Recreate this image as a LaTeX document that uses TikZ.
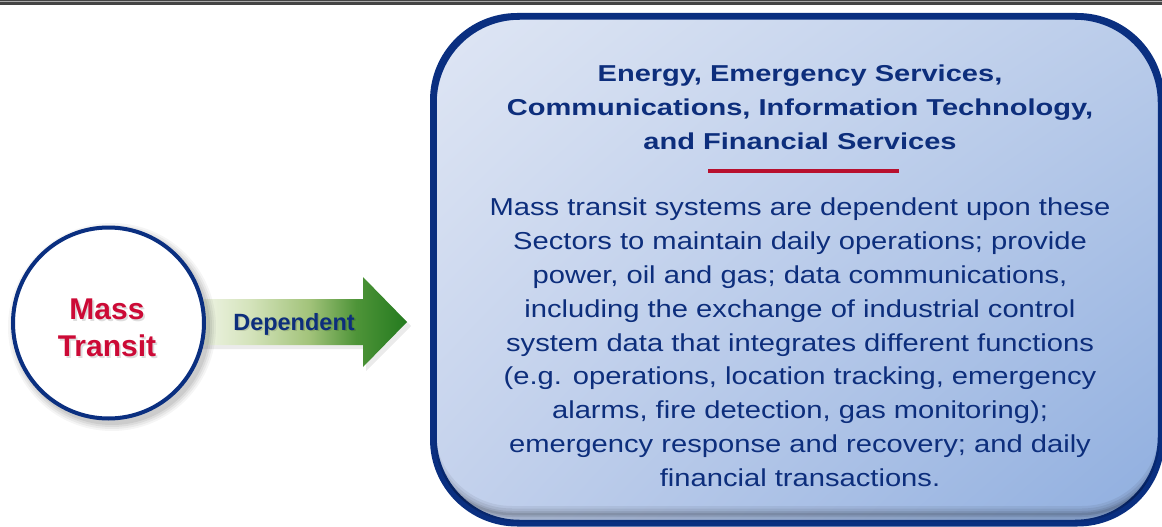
\documentclass[tikz,border=0pt]{standalone}
\usepackage{fontspec}
\setmainfont{Liberation Sans}
\newfontfamily\titlefont[FakeStretch=1.263]{Liberation Sans Bold}
\newfontfamily\bodyfont[FakeStretch=1.19]{Liberation Sans}
\usetikzlibrary{shadows,shadings}
\definecolor{navy}{HTML}{0A2F80}
\definecolor{textblue}{HTML}{0D2E7C}
\definecolor{mtred}{HTML}{CC0A36}
\definecolor{redline}{HTML}{B8102E}
\definecolor{boxUL}{HTML}{DFE6F4}
\definecolor{boxUR}{HTML}{BACCEA}
\definecolor{boxLL}{HTML}{C3D1EC}
\definecolor{boxLR}{HTML}{8FAEDF}
\definecolor{ag0}{HTML}{F2F6EA}
\definecolor{ag1}{HTML}{D4E3BB}
\definecolor{ag2}{HTML}{A2C37A}
\definecolor{ag3}{HTML}{4E9438}
\definecolor{ag4}{HTML}{247A1F}
\definecolor{barDark}{HTML}{444444}
\definecolor{barLight}{HTML}{A8A8A8}
\pgfdeclarehorizontalshading{arrowgreen}{100bp}{color(0bp)=(ag0); color(25bp)=(ag0); color(38bp)=(ag1); color(52bp)=(ag2); color(63bp)=(ag3); color(75bp)=(ag4); color(100bp)=(ag4)}
\tikzset{
  bigbox/.style={draw=navy, line width=4.5pt, rounded corners=85pt, inner sep=0pt,
    upper left=boxUL, upper right=boxUR, lower left=boxLL, lower right=boxLR},
  ring/.style={circle, draw=navy, line width=4pt, fill=white, inner sep=0pt},
  titletext/.style={text=textblue, align=center, inner sep=0pt,
    font={\titlefont\fontsize{23}{34}\selectfont}},
  bodytext/.style={text=textblue, align=center, inner sep=0pt,
    font={\bodyfont\fontsize{24.5}{33.9}\selectfont}},
  mttext/.style={text=mtred, align=center, inner sep=0pt,
    font={\bfseries\fontsize{30}{37}\selectfont}},
  deptext/.style={text=textblue, inner sep=0pt,
    font={\bfseries\fontsize{23.5}{28}\selectfont}},
  softshadow/.style={text=black, opacity=0.13}
}
\begin{document}
\begin{tikzpicture}[x=1pt,y=-1pt]
\useasboundingbox (0,0) rectangle (1162,527);
% top bar
\fill[barDark] (0,0) rectangle (1162,5);
\fill[barLight] (0,1.4) rectangle (1162,2.4);

% big box
\node[bigbox, minimum width=725.5pt, minimum height=504.5pt] (box) at (797.25,269.75) {};
\begin{scope}
  \clip[rounded corners=85pt] (434.5,17.5) rectangle (1160,522);
  \foreach \w/\o in {16/0.06, 11/0.07, 6/0.08, 2.5/0.10}
    \draw[black, opacity=\o, line width=\w pt, rounded corners=85pt] (427,9) rectangle (1167,514);
\end{scope}
\draw[navy, line width=4.5pt, rounded corners=85pt] (box.north west) rectangle (box.south east);

\node[titletext, anchor=north] (title) at (800,64.5)
  {Energy, Emergency Services,\\Communications, Information Technology,\\and Financial Services};
\draw[redline, line width=3.3pt] (708,171) -- (899,171);
\node[bodytext, anchor=north] (body) at (800,197.5)
  {Mass transit systems are dependent upon these\\
   Sectors to maintain daily operations; provide\\
   power, oil and gas; data communications,\\
   including the exchange of industrial control\\
   system data that integrates different functions\\
   (e.g. operations, location tracking, emergency\\
   alarms, fire detection, gas monitoring);\\
   emergency response and recovery; and daily\\
   financial transactions.};

% arrow
\coordinate (tip) at (407,322);
\fill[black, opacity=0.08] (200,303) -- (366,303) -- (366,281) -- (411,326) -- (366,371) -- (366,349) -- (200,349) -- cycle;
\shade[shading=arrowgreen] (195,299) -- (363,299) -- (363,277) -- (tip) -- (363,367) -- (363,345) -- (195,345) -- cycle;
\node[deptext, softshadow, anchor=base] at (295.5,331.8) {Dependent};
\node[deptext, anchor=base] (dep) at (294,330) {Dependent};

% circle with soft shadow
\foreach \r/\o in {104/0.04, 102/0.05, 100/0.06, 98/0.07}
  \fill[black, opacity=\o] (112,327) circle (\r pt);
\node[ring, minimum size=191pt] (mt) at (108.5,323) {};
\node[mttext, softshadow, anchor=north] at (108.8,300.3) {Mass\\Transit};
\node[mttext, anchor=north] (mtlabel) at (107,298.5) {Mass\\Transit};
\end{tikzpicture}
\end{document}
